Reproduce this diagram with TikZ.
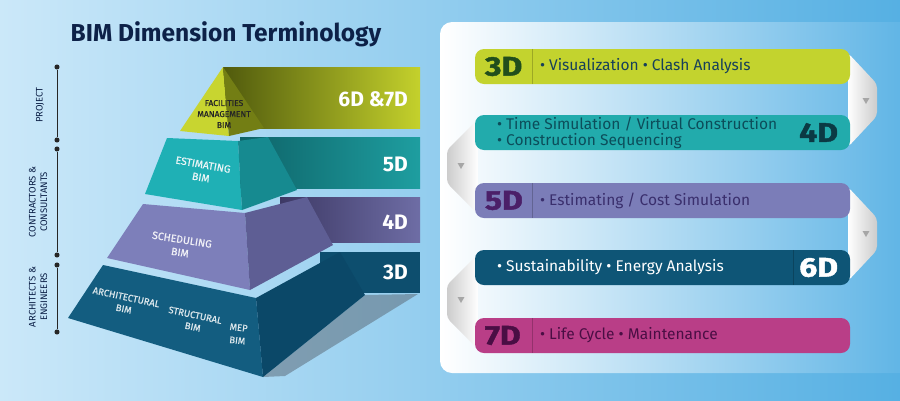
\documentclass[tikz,border=0pt]{standalone}
\usepackage{fontspec}
\setmainfont{Fira Sans}
\newfontfamily\heavyfont{Fira Sans}[FakeBold=1.6, FakeStretch=1.18]
\newfontfamily\layerfont{Fira Sans}[FakeBold=0.7]
\usepackage{xcolor}
\usetikzlibrary{positioning,shapes.geometric,calc}

\definecolor{navy}{HTML}{0D2148}
\definecolor{bgl}{HTML}{CBE8F9}
\definecolor{bgr}{HTML}{56B0E3}
\definecolor{panelr}{HTML}{5CB3E5}
% pyramid
\definecolor{olvd}{HTML}{505A0D}
\definecolor{olvl}{HTML}{C4D12C}
\definecolor{olvface}{HTML}{C8D530}
\definecolor{olvside}{HTML}{737E14}
\definecolor{tealface}{HTML}{1FB0B5}
\definecolor{tealside}{HTML}{168A90}
\definecolor{tealdk}{HTML}{0E6368}
\definecolor{teall}{HTML}{1E9EA0}
\definecolor{lavface}{HTML}{7D7FBA}
\definecolor{lavside}{HTML}{5E5E94}
\definecolor{lavdk}{HTML}{3D3965}
\definecolor{lavl}{HTML}{6E6DA5}
\definecolor{blueface}{HTML}{135D80}
\definecolor{blueside}{HTML}{0B4868}
\definecolor{blueband}{HTML}{0D4E6E}
\definecolor{shadow}{HTML}{5E6E7C}
% bars
\definecolor{bar3}{HTML}{C3D32E}
\definecolor{bar4}{HTML}{22ABAC}
\definecolor{bar5}{HTML}{7B7DB8}
\definecolor{bar6}{HTML}{0E5576}
\definecolor{bar7}{HTML}{B93E87}
\definecolor{ink3}{HTML}{214E1C}
\definecolor{txt3}{HTML}{17405A}
\definecolor{ink4}{HTML}{0B3A44}
\definecolor{txt4}{HTML}{0C4D5A}
\definecolor{ink5}{HTML}{4B1F68}
\definecolor{txt5}{HTML}{3A2F6D}
\definecolor{ink7}{HTML}{4A0E44}

\tikzset{
    x=1pt,y=-1pt,
    bar/.style ={rounded corners=9pt, minimum width=375pt, minimum height=35pt, inner sep=0pt},
    dimtag/.style ={font=\heavyfont\fontsize{27}{27}\selectfont\bfseries, inner sep=0pt},
    bartxt/.style ={font=\fontsize{15.5}{16}\selectfont, inner sep=0pt, align=left},
    bandtxt/.style ={font=\fontsize{21}{21}\selectfont\bfseries, text=white, inner sep=0pt},
    layertxt/.style ={font=\layerfont\fontsize{10.5}{13}\selectfont, align=center, inner sep=0pt},
    basetxt/.style ={font=\layerfont\fontsize{9.5}{12}\selectfont, align=center, inner sep=0pt,
        text=white!85!blueface, rotate=-12},
    sidetxt/.style ={font=\fontsize{9.5}{11.5}\selectfont, rotate=90, align=center, text=navy, inner sep=0pt},
    dot/.style = {circle, fill=black!85, inner sep=1.8pt, node contents={}},
    sep/.style ={black, opacity=0.2, line width=0.7pt},
    fold/.style ={rounded corners=4pt},
    foldmark/.style ={regular polygon, regular polygon sides=3, shape border rotate=180,
        fill=black!35, inner sep=0pt, minimum size=8pt}
}

\begin{document}
\begin{tikzpicture}
    \useasboundingbox (0,0) rectangle (900,400);
    \shade[left color=bgl, right color=bgr] (0,0) rectangle (900,400);

    \node[font=\fontsize{24.5}{26}\selectfont\bfseries, text=navy] (title) at (226,34) {BIM Dimension Terminology};

    % side scale
    \node (d1) at (57,67) [dot];
    \node (d2) at (57,140) [dot];
    \node (d3) at (57,149) [dot];
    \node (d4) at (57,255) [dot];
    \node (d5) at (57,265) [dot];
    \node (d6) at (57,332) [dot];
    \draw[black!85, thick] (d1) -- (d2);
    \draw[black!85, thick] (d3) -- (d4);
    \draw[black!85, thick] (d5) -- (d6);
    \node[sidetxt] (project) at (40,105) {PROJECT};
    \node[sidetxt] (contr) at (38,202) {CONTRACTORS \&\\CONSULTANTS};
    \node[sidetxt] (arch) at (38,297) {ARCHITECTS \&\\ENGINEERS};

    % bands behind the pyramid
    \shade[left color=olvd, right color=olvl] (223,67) rectangle (420,128);
    \shade[left color=tealdk, right color=teall] (240,137) rectangle (420,188);
    \shade[left color=lavdk, right color=lavl] (280,197) rectangle (420,242);
    \fill[blueband] (320,252) rectangle (420,293);
    \fill[shadow, opacity=0.55] (263,377) -- (365,295) -- (418,294) -- (285,376) -- cycle;

    % pyramid
    \fill[blueface] (103,265) -- (256,298) -- (263,377) -- (68,318) -- cycle;
    \fill[blueside] (256,298) -- (340,252) -- (365,295) -- (263,377) -- cycle;
    \fill[lavface] (143,204) -- (245,213) -- (250,290) -- (107,258) -- cycle;
    \fill[lavside] (245,213) -- (307,197) -- (333,245) -- (250,290) -- cycle;
    \fill[tealface] (167,138) -- (238,141) -- (242,210) -- (145,194) -- cycle;
    \fill[tealside] (238,141) -- (268,137) -- (297,190) -- (242,210) -- cycle;
    \fill[olvface] (223,67) -- (229,136) -- (180,131) -- cycle;
    \fill[olvside] (223,67) -- (264,128) -- (229,136) -- cycle;

    \node[layertxt, text=black!85, font=\layerfont\fontsize{8.5}{11}\selectfont] (fm) at (224,114) {FACILITIES\\MANAGEMENT\\BIM};
    \node[layertxt, text=white!90!teall, rotate=-10] (est) at (202,171) {ESTIMATING\\BIM};
    \node[layertxt, text=white!90!lavl, rotate=-9] (sch) at (181,246) {SCHEDULING\\BIM};
    \node[basetxt] (arc) at (125,303) {ARCHITECTURAL\\BIM};
    \node[basetxt] (str) at (194,321) {STRUCTURAL\\BIM};
    \node[basetxt, rotate=6, font=\layerfont\fontsize{9.5}{13}\selectfont] (mep) at (238,334) {MEP\\BIM};

    \node[bandtxt, anchor=east] (n67) at (408,99) {6D \&7D};
    \node[bandtxt, anchor=east] (n5) at (408,164) {5D};
    \node[bandtxt, anchor=east] (n4) at (408,222) {4D};
    \node[bandtxt, anchor=east] (n3) at (408,272) {3D};

    % right panel
    \shade[left color=white, right color=panelr, rounded corners=12pt] (440,22) rectangle (915,373);

    % folds
    \shade[fold, left color=white, right color=black!20] (848,53) -- (877,84) -- (877,116) -- (848,147) -- cycle;
    \shade[fold, left color=white, right color=black!20] (848,187) -- (877,218) -- (877,250) -- (848,281) -- cycle;
    \shade[fold, left color=black!20, right color=white] (478,119) -- (447,150) -- (447,183) -- (478,214) -- cycle;
    \shade[fold, left color=black!20, right color=white] (478,254) -- (447,285) -- (447,318) -- (478,349) -- cycle;
    \node[foldmark] (m1) at (866,100) {};
    \node[foldmark] (m2) at (866,233) {};
    \node[foldmark] (m3) at (461,165) {};
    \node[foldmark] (m4) at (461,299) {};

    % bars
    \node[bar, fill=bar3] (b3) at (662.5,66.5) {};
    \node[bar, fill=bar4] (b4) at (662.5,132.5) {};
    \node[bar, fill=bar5] (b5) at (662.5,200.5) {};
    \node[bar, fill=bar6] (b6) at (662.5,267.5) {};
    \node[bar, fill=bar7] (b7) at (662.5,335.5) {};

    \node[dimtag, text=ink3, right=10pt of b3.west] (t3) {3D};
    \draw[sep] ([xshift=58pt]b3.north west) -- ([xshift=58pt]b3.south west);
    \node[bartxt, text=txt3, right=65pt of b3.west] (x3) {• Visualization • Clash Analysis};

    \node[dimtag, text=ink4, left=12pt of b4.east] (t4) {4D};
    \node[bartxt, text=txt4, right=22pt of b4.west] (x4) {• Time Simulation / Virtual Construction\\• Construction Sequencing};

    \node[dimtag, text=ink5, right=10pt of b5.west] (t5) {5D};
    \draw[sep] ([xshift=58pt]b5.north west) -- ([xshift=58pt]b5.south west);
    \node[bartxt, text=txt5, right=65pt of b5.west] (x5) {• Estimating / Cost Simulation};

    \node[dimtag, text=white, left=12pt of b6.east] (t6) {6D};
    \draw[sep] ([xshift=-57pt]b6.north east) -- ([xshift=-57pt]b6.south east);
    \node[bartxt, text=white, right=22pt of b6.west] (x6) {• Sustainability • Energy Analysis};

    \node[dimtag, text=ink7, right=10pt of b7.west] (t7) {7D};
    \draw[sep] ([xshift=58pt]b7.north west) -- ([xshift=58pt]b7.south west);
    \node[bartxt, text=ink7, right=65pt of b7.west] (x7) {• Life Cycle • Maintenance};
\end{tikzpicture}
\end{document}
